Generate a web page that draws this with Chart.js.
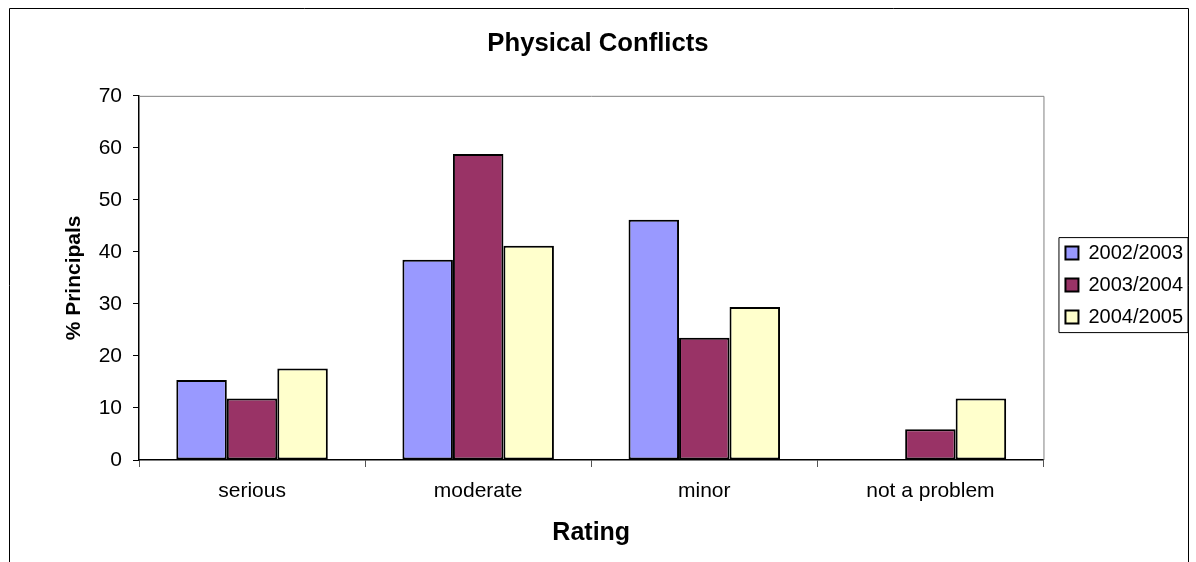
<!DOCTYPE html>
<html>
<head>
<meta charset="utf-8">
<script src="https://cdn.jsdelivr.net/npm/chart.js@4"></script>
<style>
  html, body { margin: 0; padding: 0; background: #fff; }
  #wrap { width: 1196px; height: 562px; }
</style>
</head>
<body>
<div id="wrap"><canvas id="myChart" width="1196" height="562"></canvas></div>
<script>
const categories = ['serious', 'moderate', 'minor', 'not a problem'];
const years = ['2002/2003', '2003/2004', '2004/2005'];
const y2002 = [15.4, 38.5, 46.2, 0];
const y2003 = [11.8, 58.8, 23.5, 5.9];
const y2004 = [17.6, 41.2, 29.4, 11.8];
const colors = ['#9999FF', '#993366', '#FFFFCC'];

const FONT = 'Liberation Sans, Arial, sans-serif';

// frame round the whole chart, plot area edges and legend box
const frames = {
  id: 'frames',
  afterDraw(chart) {
    const ctx = chart.ctx;
    const a = chart.chartArea;
    ctx.save();
    ctx.strokeStyle = '#808080';
    ctx.lineWidth = 1;
    ctx.beginPath();
    ctx.moveTo(a.left, a.top + 0.5);
    ctx.lineTo(a.right + 0.5, a.top + 0.5);
    ctx.lineTo(a.right + 0.5, a.bottom);
    ctx.stroke();

    ctx.strokeStyle = '#000';
    ctx.beginPath();
    ctx.moveTo(9.5, 562);
    ctx.lineTo(9.5, 8.5);
    ctx.lineTo(1188.5, 8.5);
    ctx.lineTo(1188.5, 562);
    ctx.stroke();

    const hb = chart.legend.legendHitBoxes;
    if (hb && hb.length) {
      const top = hb[0].top - 6;
      const last = hb[hb.length - 1];
      const bottom = last.top + last.height + 5;
      ctx.beginPath();
      ctx.rect(chart.legend.left + 5.5, top + 0.5, 1188 - chart.legend.left - 5.5, bottom - top);
      ctx.stroke();
    }
    ctx.restore();
  }
};

new Chart(document.getElementById('myChart'), {
  type: 'bar',
  data: {
    labels: categories,
    datasets: [
      { label: years[0], data: y2002, backgroundColor: colors[0] },
      { label: years[1], data: y2003, backgroundColor: colors[1] },
      { label: years[2], data: y2004, backgroundColor: colors[2] }
    ].map(d => Object.assign(d, {
      borderColor: '#000',
      borderWidth: 2,
      borderSkipped: false,
      categoryPercentage: 0.67,
      barPercentage: 1
    }))
  },
  options: {
    responsive: false,
    animation: false,
    layout: { padding: { left: 3, right: 3, top: 0, bottom: 0 } },
    plugins: {
      tooltip: { enabled: false },
      title: {
        display: true,
        text: 'Physical Conflicts',
        color: '#000',
        font: { family: FONT, size: 25.7, weight: 'bold' },
        padding: { top: 28, bottom: 37 }
      },
      legend: {
        position: 'right',
        align: 'center',
        title: { display: true, text: '', font: { size: 1 }, padding: { top: 3, bottom: 4 } },
        labels: {
          color: '#000',
          font: { family: FONT, size: 20 },
          boxWidth: 13,
          boxHeight: 13,
          padding: 12
        }
      }
    },
    scales: {
      x: {
        offset: true,
        grid: { offset: true, drawOnChartArea: false, tickLength: 7, color: '#555' },
        border: { color: '#000', width: 1.5 },
        ticks: { color: '#000', font: { family: FONT, size: 21 }, padding: 12 },
        title: {
          display: true,
          text: 'Rating',
          color: '#000',
          font: { family: FONT, size: 25, weight: 'bold' },
          padding: { top: 4, bottom: 14 }
        },
        afterFit(s) { s.height = 102; }
      },
      y: {
        min: 0,
        max: 70,
        ticks: { stepSize: 10, color: '#000', font: { family: FONT, size: 21 }, padding: 11 },
        grid: { drawOnChartArea: false, tickLength: 6, color: '#000' },
        border: { color: '#000', width: 1.5 },
        title: {
          display: true,
          text: '% Principals',
          color: '#000',
          font: { family: FONT, size: 21, weight: 'bold' },
          padding: { top: 59, bottom: 4 }
        },
        afterFit(s) { s.width = 136; }
      },
      gap: {
        type: 'linear',
        position: 'right',
        grid: { display: false },
        border: { display: false },
        ticks: { display: false },
        afterFit(s) { s.width = 10; }
      }
    }
  },
  plugins: [frames]
});
</script>
</body>
</html>
